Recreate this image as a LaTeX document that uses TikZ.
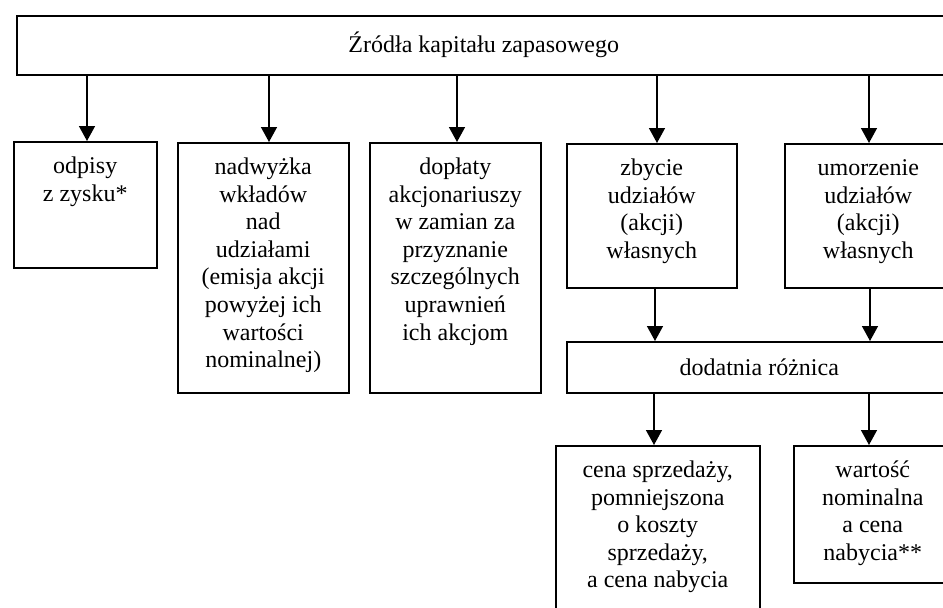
\documentclass[tikz,border=0pt]{standalone}
\usepackage{fontspec}
\setmainfont{Liberation Serif}
\usetikzlibrary{arrows.meta}
\begin{document}
\begin{tikzpicture}[x=1pt,y=-1pt,
  box/.style={draw, line width=1.5pt, inner sep=0pt, anchor=north west},
  lbl/.style={font=\fontsize{24}{27.6}\selectfont, align=center, inner sep=0pt},
  txt/.style={lbl, anchor=north},
  arr/.style={line width=1.5pt, -{Triangle[width=16pt,length=15pt]}}]
\useasboundingbox (0,0) rectangle (943,608);
\clip (0,0) rectangle (943,608);

% top box
\node[box, lbl, anchor=north west, minimum width=934pt, minimum height=59pt] (top) at (16,15) {Źródła kapitału zapasowego};

% second row
\node[box, minimum width=143pt, minimum height=126pt] (b1) at (13,141) {};
\node[box, minimum width=171pt, minimum height=250pt] (b2) at (177,142) {};
\node[box, minimum width=171pt, minimum height=250pt] (b3) at (369,142) {};
\node[box, minimum width=170pt, minimum height=144pt] (b4) at (566,143) {};
\node[box, minimum width=167pt, minimum height=144pt] (b5) at (784,143) {};

\node[txt] (t1) at ([yshift=-13pt]b1.north) {\strut odpisy\\z zysku*};
\node[txt] (t2) at ([yshift=-13pt]b2.north) {\strut nadwyżka\\wkładów\\nad\\udziałami\\(emisja akcji\\powyżej ich\\wartości\\nominalnej)};
\node[txt] (t3) at ([yshift=-13pt]b3.north) {\strut dopłaty\\akcjonariuszy\\w zamian za\\przyznanie\\szczególnych\\uprawnień\\ich akcjom};
\node[txt] (t4) at ([yshift=-13pt]b4.north) {\strut zbycie\\udziałów\\(akcji)\\własnych};
\node[txt] (t5) at ([yshift=-13pt]b5.north) {\strut umorzenie\\udziałów\\(akcji)\\własnych};

% difference box
\node[box, lbl, anchor=north west, minimum width=385pt, minimum height=51pt] (diff) at (566,341) {dodatnia różnica};

% bottom row
\node[box, minimum width=204pt, minimum height=190pt] (c1) at (555,445) {};
\node[box, minimum width=158pt, minimum height=137pt] (c2) at (793,445) {};
\node[txt] (u1) at ([yshift=-13pt]c1.north) {\strut cena sprzedaży,\\pomniejszona\\o koszty\\sprzedaży,\\a cena nabycia};
\node[txt] (u2) at ([yshift=-13pt]c2.north) {\strut wartość\\nominalna\\a cena\\nabycia**};

% arrow x positions
\coordinate (a1) at (87,0);
\coordinate (a2) at (269,0);
\coordinate (a3) at (457,0);
\coordinate (a4) at (657,0);
\coordinate (a5) at (869,0);
\coordinate (d1) at (655,0);
\coordinate (d2) at (870,0);
\coordinate (e1) at (654,0);
\coordinate (e2) at (869,0);

\draw[arr] (top.south -| a1) -- (b1.north -| a1);
\draw[arr] (top.south -| a2) -- (b2.north -| a2);
\draw[arr] (top.south -| a3) -- (b3.north -| a3);
\draw[arr] (top.south -| a4) -- (b4.north -| a4);
\draw[arr] (top.south -| a5) -- (b5.north -| a5);

\draw[arr] (b4.south -| d1) -- (diff.north -| d1);
\draw[arr] (b5.south -| d2) -- (diff.north -| d2);

\draw[arr] (diff.south -| e1) -- (c1.north -| e1);
\draw[arr] (diff.south -| e2) -- (c2.north -| e2);
\end{tikzpicture}
\end{document}
